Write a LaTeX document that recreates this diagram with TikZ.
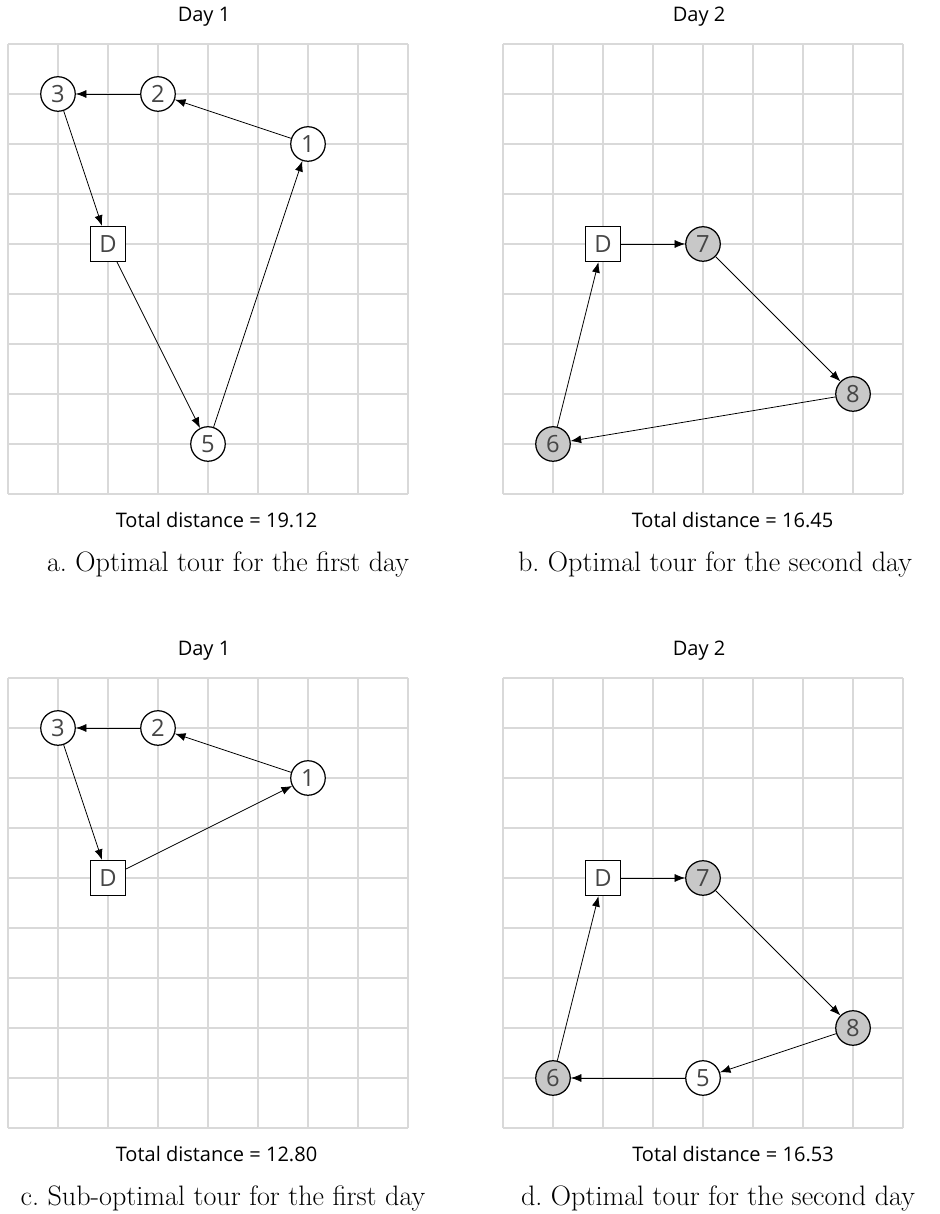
\documentclass[tikz,border=0pt]{standalone}
\usepackage{fontspec}
\newfontfamily\plotfont{Open Sans}
\usetikzlibrary{arrows.meta, positioning}
\definecolor{gridGray}{RGB}{217,217,217}
\definecolor{visitGray}{RGB}{200,200,200}
\definecolor{labelInk}{RGB}{70,70,70}

\begin{document}
\begin{tikzpicture}[
    gridline/.style={gridGray, line width=0.85pt},
    cust/.style={circle, draw, fill=white, line width=0.7pt, minimum size=0.69cm, inner sep=0pt,
      font=\plotfont\fontsize{13.5}{13.5}\selectfont, text=labelInk},
    custday/.style={cust, fill=visitGray},
    depot/.style={rectangle, draw, fill=white, line width=0.7pt, minimum size=0.7cm, inner sep=0pt,
      font=\plotfont\fontsize{13.5}{13.5}\selectfont, text=labelInk},
    route/.style={-{Latex[length=6pt,width=4.6pt]}, line width=0.45pt},
    daytitle/.style={anchor=base, font=\plotfont\fontsize{11.4}{13}\selectfont},
    total/.style={anchor=base, font=\plotfont\fontsize{11.4}{13}\selectfont},
    subcap/.style={anchor=base, font=\fontsize{16}{19}\selectfont}]
  \useasboundingbox (0,0) rectangle (18.78,24.28);

  % a. first day
  \begin{scope}[shift={(0.16,14.4)}]
    \draw[gridline] (0,0) grid (8,9);
    \node[daytitle] (aday) at (3.92,9.45) {Day 1};
    \node[depot] (aD) at (2,5) {D};
    \node[cust] (a1) at (6,7) {1};
    \node[cust] (a2) at (3,8) {2};
    \node[cust] (a3) at (1,8) {3};
    \node[cust] (a5) at (4,1) {5};
    \draw[route] (aD) -- (a5);
    \draw[route] (a5) -- (a1);
    \draw[route] (a1) -- (a2);
    \draw[route] (a2) -- (a3);
    \draw[route] (a3) -- (aD);
    \node[total] (atot) at (4.17,-0.68) {Total distance = 19.12};
    \node[subcap] (acap) at (4.4,-1.55) {a.\ Optimal tour for the first day};
  \end{scope}

  % b. second day
  \begin{scope}[shift={(10.06,14.4)}]
    \draw[gridline] (0,0) grid (8,9);
    \node[daytitle] (bday) at (3.92,9.45) {Day 2};
    \node[depot] (bD) at (2,5) {D};
    \node[custday] (b7) at (4,5) {7};
    \node[custday] (b8) at (7,2) {8};
    \node[custday] (b6) at (1,1) {6};
    \draw[route] (bD) -- (b7);
    \draw[route] (b7) -- (b8);
    \draw[route] (b8) -- (b6);
    \draw[route] (b6) -- (bD);
    \node[total] (btot) at (4.59,-0.68) {Total distance = 16.45};
    \node[subcap] (bcap) at (4.24,-1.55) {b.\ Optimal tour for the second day};
  \end{scope}

  % c. first day, customer 5 moved
  \begin{scope}[shift={(0.16,1.72)}]
    \draw[gridline] (0,0) grid (8,9);
    \node[daytitle] (cday) at (3.92,9.45) {Day 1};
    \node[depot] (cD) at (2,5) {D};
    \node[cust] (c1) at (6,7) {1};
    \node[cust] (c2) at (3,8) {2};
    \node[cust] (c3) at (1,8) {3};
    \draw[route] (cD) -- (c1);
    \draw[route] (c1) -- (c2);
    \draw[route] (c2) -- (c3);
    \draw[route] (c3) -- (cD);
    \node[total] (ctot) at (4.17,-0.68) {Total distance = 12.80};
    \node[subcap] (ccap) at (4.3,-1.55) {c.\ Sub-optimal tour for the first day};
  \end{scope}

  % d. second day with 5
  \begin{scope}[shift={(10.06,1.72)}]
    \draw[gridline] (0,0) grid (8,9);
    \node[daytitle] (dday) at (3.92,9.45) {Day 2};
    \node[depot] (dD) at (2,5) {D};
    \node[custday] (d7) at (4,5) {7};
    \node[custday] (d8) at (7,2) {8};
    \node[cust] (d5) at (4,1) {5};
    \node[custday] (d6) at (1,1) {6};
    \draw[route] (dD) -- (d7);
    \draw[route] (d7) -- (d8);
    \draw[route] (d8) -- (d5);
    \draw[route] (d5) -- (d6);
    \draw[route] (d6) -- (dD);
    \node[total] (dtot) at (4.6,-0.68) {Total distance = 16.53};
    \node[subcap] (dcap) at (4.3,-1.55) {d.\ Optimal tour for the second day};
  \end{scope}
\end{tikzpicture}
\end{document}
